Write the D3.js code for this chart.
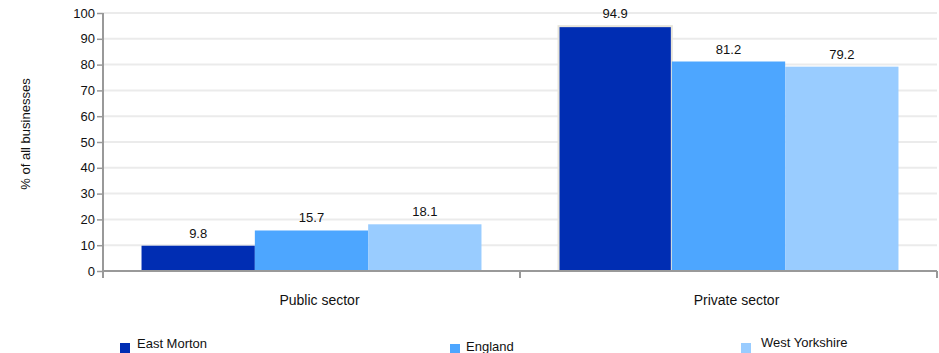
<!DOCTYPE html>
<html><head><meta charset="utf-8">
<script src="https://cdn.jsdelivr.net/npm/d3@7"></script>
<style>body{margin:0;background:#fff;font-family:"Liberation Sans",Arial,sans-serif;}</style>
</head><body>
<svg id="c" width="939" height="353"></svg>
<script>
const categories = ["Public sector", "Private sector"];
const seriesNames = ["East Morton", "England", "West Yorkshire"];
const eastMorton = [9.8, 94.9];
const england = [15.7, 81.2];
const westYorkshire = [18.1, 79.2];
const yTicks = [0,10,20,30,40,50,60,70,80,90,100];
const colors = ["#002db3", "#4da6ff", "#99ccff"];

const seriesValues = [eastMorton, england, westYorkshire];
const svg = d3.select("#c");
const font = "Liberation Sans, Arial, sans-serif";

const x = d3.scaleBand().domain(categories).range([103, 937]).padding(0);
const xi = d3.scaleBand().domain(seriesNames).range([0, x.bandwidth()]).paddingInner(0).paddingOuter(0.34);
const y = d3.scaleLinear().domain([0, 100]).range([271, 13]);

// grid
svg.append("g").selectAll("line").data(yTicks.filter(d => d > 0)).join("line")
  .attr("x1", 103).attr("x2", 937)
  .attr("y1", d => y(d)).attr("y2", d => y(d))
  .attr("stroke", "#ebebeb").attr("stroke-width", 2);

// bars
const g = svg.append("g");
categories.forEach((cat, ci) => {
  seriesNames.forEach((s, si) => {
    const v = seriesValues[si][ci];
    const r = g.append("rect")
      .attr("x", x(cat) + xi(s)).attr("width", xi.bandwidth())
      .attr("y", y(v)).attr("height", y(0) - y(v))
      .attr("fill", colors[si]);
    if (ci === 1 && si === 0) {
      r.attr("stroke", "#e6e4da").attr("stroke-width", 2);
    }
    g.append("text")
      .attr("x", x(cat) + xi(s) + xi.bandwidth() / 2)
      .attr("y", y(v) - 8)
      .attr("text-anchor", "middle")
      .attr("font-family", font).attr("font-size", 13).attr("fill", "#111")
      .text(v.toFixed(1));
  });
});

// y axis
const ya = svg.append("g").attr("transform", "translate(103,0)")
  .call(d3.axisLeft(y).tickValues(yTicks).tickSize(6).tickPadding(2));
ya.select(".domain").attr("stroke", "#999").attr("stroke-width", 2).attr("d", `M0,${y(100)}V${y(0)+4}`);
ya.selectAll(".tick line").attr("stroke", "#999").attr("stroke-width", 1.5);
ya.selectAll(".tick text").attr("font-family", font).attr("font-size", 13).attr("fill", "#111");

// x axis
const xa = svg.append("g");
xa.append("line").attr("x1", 103).attr("x2", 937).attr("y1", y(0)).attr("y2", y(0))
  .attr("stroke", "#999").attr("stroke-width", 2);
const bounds = [x(categories[0]), x(categories[1]), x(categories[1]) + x.bandwidth()];
xa.selectAll(".xt").data(bounds).join("line")
  .attr("x1", d => d).attr("x2", d => d).attr("y1", y(0)).attr("y2", y(0) + 7)
  .attr("stroke", "#999").attr("stroke-width", 2);
xa.selectAll("text").data(categories).join("text")
  .attr("x", d => x(d) + x.bandwidth() / 2 + 8).attr("y", 305)
  .attr("text-anchor", "middle").attr("font-family", font).attr("font-size", 14).attr("fill", "#111")
  .text(d => d);

// y title
svg.append("text").attr("transform", "translate(30,134) rotate(-90)")
  .attr("text-anchor", "middle").attr("font-family", font).attr("font-size", 13).attr("fill", "#111")
  .text("% of all businesses");

// legend
const legPos = [{sx:120, sy:343, tx:137, ty:348}, {sx:450, sy:344, tx:466, ty:351}, {sx:741, sy:343, tx:761, ty:347}];
seriesNames.forEach((s, i) => {
  const p = legPos[i];
  svg.append("rect").attr("x", p.sx).attr("y", p.sy).attr("width", 10).attr("height", 10).attr("fill", colors[i]);
  svg.append("text").attr("x", p.tx).attr("y", p.ty).attr("font-family", font).attr("font-size", 13).attr("fill", "#111").text(s);
});
</script>
</body></html>
